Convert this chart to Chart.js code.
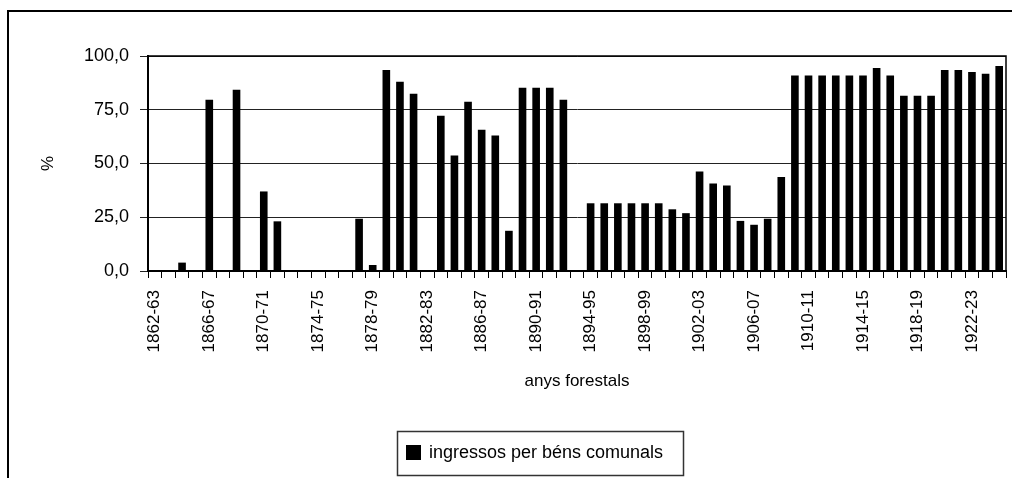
<!DOCTYPE html>
<html>
<head>
<meta charset="utf-8">
<script src="https://cdn.jsdelivr.net/npm/chart.js@4.4.1/dist/chart.umd.min.js"></script>
<style>
  html, body { margin: 0; padding: 0; background: #fff; }
  #wrap { width: 1012px; height: 478px; }
</style>
</head>
<body>
<div id="wrap"><canvas id="chart" width="1012" height="478"></canvas></div>
<script>
// forestry years, one bar each
const years = [
  '1862-63','1863-64','1864-65','1865-66','1866-67','1867-68','1868-69','1869-70',
  '1870-71','1871-72','1872-73','1873-74','1874-75','1875-76','1876-77','1877-78',
  '1878-79','1879-80','1880-81','1881-82','1882-83','1883-84','1884-85','1885-86',
  '1886-87','1887-88','1888-89','1889-90','1890-91','1891-92','1892-93','1893-94',
  '1894-95','1895-96','1896-97','1897-98','1898-99','1899-00','1900-01','1901-02',
  '1902-03','1903-04','1904-05','1905-06','1906-07','1907-08','1908-09','1909-10',
  '1910-11','1911-12','1912-13','1913-14','1914-15','1915-16','1916-17','1917-18',
  '1918-19','1919-20','1920-21','1921-22','1922-23','1923-24','1924-25'
];

// % of income from communal goods
const ingressos = [
  0, 0, 3.9, 0, 79.6, 0, 84.3, 0,
  37.0, 23.1, 0, 0, 0, 0, 0, 24.3,
  2.8, 93.5, 88.0, 82.4, 0, 72.2, 53.7, 78.7,
  65.7, 63.0, 18.7, 85.2, 85.2, 85.2, 79.6, 0,
  31.5, 31.5, 31.5, 31.5, 31.5, 31.5, 28.7, 26.9,
  46.3, 40.7, 39.8, 23.3, 21.5, 24.3, 43.7, 90.9,
  90.9, 90.9, 90.9, 90.9, 90.9, 94.4, 90.9, 81.5,
  81.5, 81.5, 93.5, 93.5, 92.6, 91.7, 95.4
];

const yTicks = [0, 25, 50, 75, 100];
const labelEvery = 4;

const FONT = '"Liberation Sans", Arial, sans-serif';

// outer frame, plot box and the boxed legend like the Excel original
const framePlugin = {
  id: 'frame',
  beforeDraw(chart) {
    const ctx = chart.ctx;
    ctx.save();
    ctx.fillStyle = '#fff';
    ctx.fillRect(0, 0, chart.width, chart.height);
    ctx.strokeStyle = '#000';
    ctx.lineWidth = 2;
    ctx.strokeRect(8, 11, chart.width + 20, chart.height + 20);
    ctx.restore();
  },
  afterDraw(chart) {
    const ctx = chart.ctx;
    const a = chart.chartArea;
    ctx.save();
    ctx.strokeStyle = '#000';
    ctx.lineWidth = 1.5;
    ctx.strokeRect(a.left, a.top, a.right - a.left, a.bottom - a.top);

    // legend
    const ds = chart.data.datasets[0];
    ctx.lineWidth = 1.5;
    ctx.strokeStyle = '#333';
    ctx.strokeRect(397.5, 431.5, 286, 44);
    ctx.fillStyle = ds.backgroundColor;
    ctx.fillRect(406, 445, 15, 15);
    ctx.fillStyle = '#000';
    ctx.font = '18px ' + FONT;
    ctx.textBaseline = 'middle';
    ctx.textAlign = 'left';
    ctx.fillText(ds.label, 429, 453);
    ctx.restore();
  }
};

new Chart(document.getElementById('chart'), {
  type: 'bar',
  data: {
    labels: years,
    datasets: [{
      label: 'ingressos per béns comunals',
      data: ingressos,
      backgroundColor: '#000',
      borderWidth: 0,
      barPercentage: 0.56,
      categoryPercentage: 1.0
    }]
  },
  options: {
    responsive: false,
    animation: false,
    devicePixelRatio: 1,
    layout: { padding: { left: 30, top: 56, right: 6, bottom: 83 } },
    plugins: {
      legend: { display: false },
      tooltip: { enabled: false }
    },
    scales: {
      x: {
        offset: true,
        afterFit: (axis) => {
          axis.height = 124;
          axis.paddingLeft = 0;
          axis.paddingRight = 0;
        },
        grid: { drawOnChartArea: false, drawTicks: true, tickLength: 7, color: '#000', offset: true },
        border: { color: '#000', width: 2 },
        ticks: {
          autoSkip: false,
          minRotation: 90,
          maxRotation: 90,
          padding: 12,
          color: '#000',
          font: { family: FONT, size: 17 },
          callback: (v, i) => (i % labelEvery === 0 ? years[i] : '')
        },
        title: {
          display: true,
          text: 'anys forestals',
          color: '#000',
          font: { family: FONT, size: 17 },
          padding: { top: 4, bottom: 3 }
        }
      },
      y: {
        min: 0,
        max: 100,
        afterFit: (axis) => {
          axis.width = 118;
          axis.paddingTop = 0;
          axis.paddingBottom = 0;
        },
        afterBuildTicks: (axis) => { axis.ticks = yTicks.map(v => ({ value: v })); },
        grid: { color: '#222', lineWidth: 1, tickLength: 8 },
        border: { color: '#000', width: 2 },
        ticks: {
          padding: 11,
          color: '#000',
          font: { family: FONT, size: 18 },
          callback: (v) => v.toFixed(1).replace('.', ',')
        },
        title: {
          display: true,
          text: '%',
          color: '#000',
          font: { family: FONT, size: 17 },
          padding: { top: 8, bottom: 0 }
        }
      }
    }
  },
  plugins: [framePlugin]
});
</script>
</body>
</html>
